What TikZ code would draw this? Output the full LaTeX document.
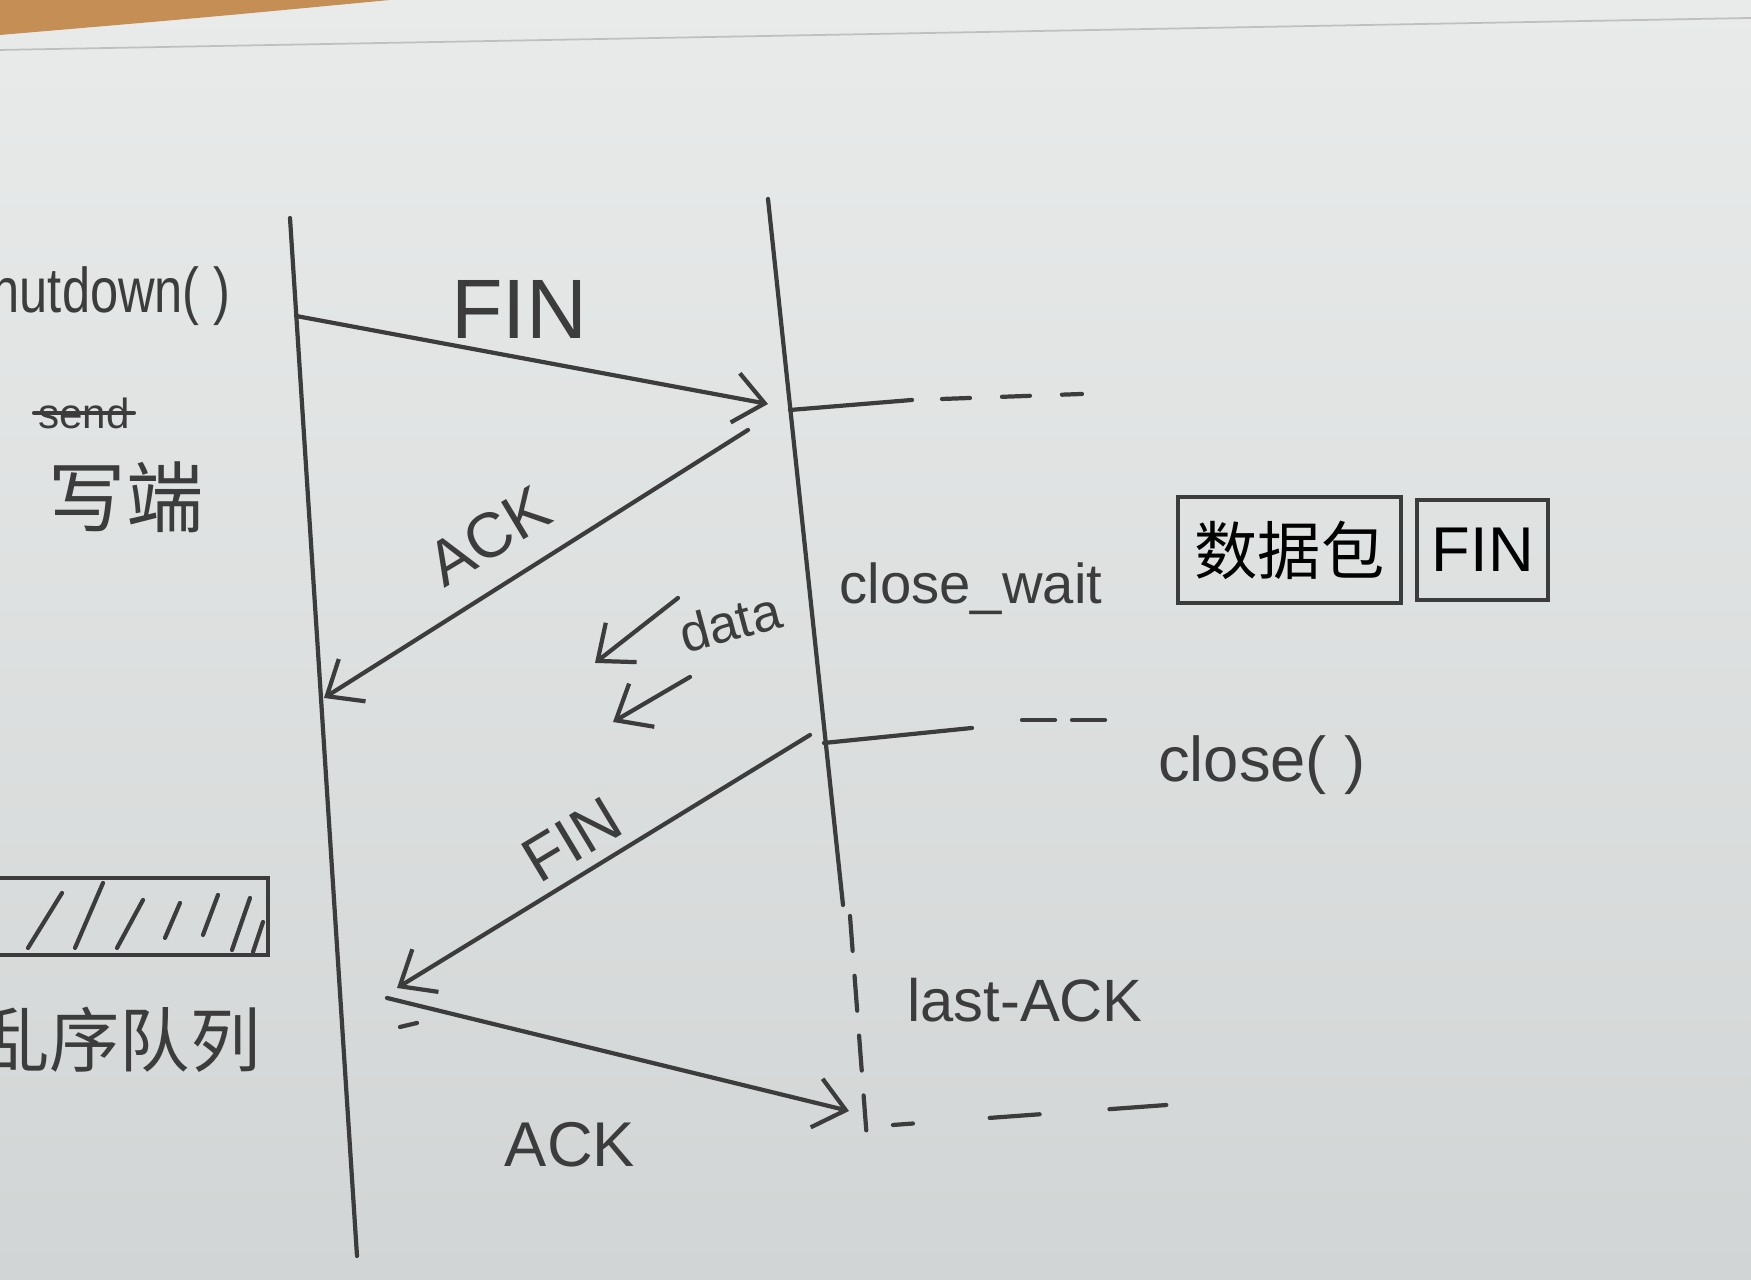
\documentclass[tikz,border=0pt]{standalone}
\usepackage{fontspec}
\setmainfont{Liberation Sans}
\newfontfamily\cjk{Noto Sans CJK SC}
\usetikzlibrary{arrows.meta,positioning}

\definecolor{paper}{RGB}{233,235,235}
\definecolor{paperdark}{RGB}{210,213,213}
\definecolor{ink}{RGB}{60,60,60}
\definecolor{desk}{RGB}{196,142,84}

\tikzset{
  inkline/.style={ink, line width=1.2pt, line cap=round, line join=round},
  msg/.style={inkline, -{Straight Barb[length=3mm,width=5mm]}},
  lbl/.style={ink, inner sep=1pt},
  statebox/.style={draw=ink, line width=1.2pt, inner sep=2pt},
}

\begin{document}
\begin{tikzpicture}
	% Papir
	\useasboundingbox (0,0) rectangle (17.51,12.80);
	\clip (0,0) rectangle (17.51,12.80);
	\shade[top color=paper, bottom color=paperdark] (0,0) rectangle (17.51,12.80);
	\fill[desk] (0,12.80) -- (3.9,12.80) .. controls (2.0,12.62) .. (0,12.45) -- cycle;
	\draw[gray!50, line width=0.5pt] (0,12.30) -- (17.51,12.62);
	
	% Tidslinjer
	\coordinate (Atop) at (2.90,10.62);
	\coordinate (Abot) at (3.57,0.24);
	\coordinate (Btop) at (7.68,10.81);
	\coordinate (Bmid) at (8.43,3.75);
	\coordinate (Bdash) at (8.50,3.64);
	\coordinate (Bbot) at (8.67,1.40);
	\draw[inkline] (Atop) -- (Abot);
	\draw[inkline] (Btop) -- (Bmid);
	\draw[inkline, dash pattern=on 3.5mm off 2.5mm] (Bdash) -- (Bbot);
	
	% Meldinger
	\coordinate (fin1s) at (2.96,9.64);
	\coordinate (fin1e) at (7.68,8.76);
	\coordinate (ack1s) at (7.48,8.50);
	\coordinate (ack1e) at (3.24,5.82);
	\coordinate (fin2s) at (8.10,5.45);
	\coordinate (fin2e) at (3.97,2.92);
	\coordinate (ack2s) at (3.87,2.82);
	\coordinate (ack2e) at (8.49,1.69);
	\draw[msg] (fin1s) -- (fin1e);
	\draw[msg] (ack1s) -- (ack1e);
	\draw[msg] (fin2s) -- (fin2e);
	\draw[msg] (ack2s) -- (ack2e);
	\draw[inkline] (4.00,2.53) -- (4.17,2.57);
	
	% Data underveis
	\coordinate (d1s) at (6.78,6.82);
	\coordinate (d1e) at (5.95,6.17);
	\coordinate (d2s) at (6.90,6.03);
	\coordinate (d2e) at (6.13,5.58);
	\draw[msg] (d1s) -- (d1e);
	\draw[msg] (d2s) -- (d2e);
	
	% Tilstandslinjer
	\coordinate (w1s) at (7.90,8.70);
	\coordinate (w1m) at (9.12,8.80);
	\coordinate (w1d) at (9.42,8.81);
	\coordinate (w1e) at (10.82,8.86);
	\draw[inkline] (w1s) -- (w1m);
	\draw[inkline, dash pattern=on 2.8mm off 3.2mm] (w1d) -- (w1e);
	\coordinate (w2s) at (8.24,5.37);
	\coordinate (w2m) at (9.72,5.52);
	\coordinate (w2d) at (10.22,5.60);
	\coordinate (w2e) at (11.05,5.60);
	\draw[inkline] (w2s) -- (w2m);
	\draw[inkline, dash pattern=on 3.3mm off 1.7mm] (w2d) -- (w2e);
	\coordinate (w3s) at (8.93,1.55);
	\coordinate (w3e) at (11.67,1.75);
	\draw[inkline, dash pattern=on 2mm off 7.7mm on 5mm off 7mm on 5.7mm off 5mm] (w3s) -- (w3e);
	
	% Etiketter
	\node[lbl, font=\fontsize{24}{24}\selectfont] (finA) at (5.19,9.70) {FIN};
	\node[lbl, font=\fontsize{18}{18}\selectfont, rotate=31] (ackA) at (4.89,7.44) {ACK};
	\node[lbl, font=\fontsize{15}{15}\selectfont, rotate=15] (dataL) at (7.30,6.58) {data};
	\node[lbl, font=\fontsize{18}{18}\selectfont, rotate=31] (finB) at (5.72,4.40) {FIN};
	\node[lbl, font=\fontsize{18}{18}\selectfont] (ackB) at (5.70,1.35) {ACK};
	\node[lbl, font=\fontsize{16}{16}\selectfont] (cwait) at (9.71,6.91) {close\_wait};
	\node[lbl, font=\fontsize{18}{18}\selectfont] (closeL) at (12.62,5.15) {close( )};
	\node[lbl, font=\fontsize{17}{17}\selectfont] (lastack) at (10.25,2.80) {last-ACK};
	
	% Bufferet til hoyre
	\node[statebox, minimum width=2.23cm, minimum height=1.06cm, font=\cjk\fontsize{18}{18}\selectfont] (databox) at (12.895,7.30) {数据包};
	\node[statebox, minimum width=1.31cm, minimum height=1.0cm, font=\fontsize{18}{18}\selectfont, right=0.12cm of databox] (finbox) {FIN};
	
	% Venstre side
	\node[lbl, anchor=east, font=\fontsize{18}{18}\selectfont] (shut) at (2.35,9.84) {\scalebox{0.8}[1]{shutdown( )}};
	\node[lbl, font=\fontsize{12}{12}\selectfont] (send) at (0.84,8.67) {send};
	\draw[inkline] (send.west) -- (send.east);
	\node[lbl, font=\cjk\fontsize{22}{22}\selectfont] (wend) at (1.26,7.83) {写端};
	\node[statebox, minimum width=2.88cm, minimum height=0.77cm] (queue) at (1.24,3.635) {};
	\foreach \xa/\ya/\xb/\yb in {0.28/3.32/0.62/3.87, 0.75/3.32/1.03/3.97, 1.17/3.32/1.43/3.80,
		1.65/3.42/1.80/3.77, 2.03/3.45/2.18/3.85, 2.32/3.30/2.50/3.82, 2.53/3.28/2.63/3.58}
	\draw[inkline] (\xa,\ya) -- (\xb,\yb);
	\node[lbl, font=\cjk\fontsize{20}{20}\selectfont] (ooq) at (1.20,2.40) {乱序队列};
\end{tikzpicture}
\end{document}
